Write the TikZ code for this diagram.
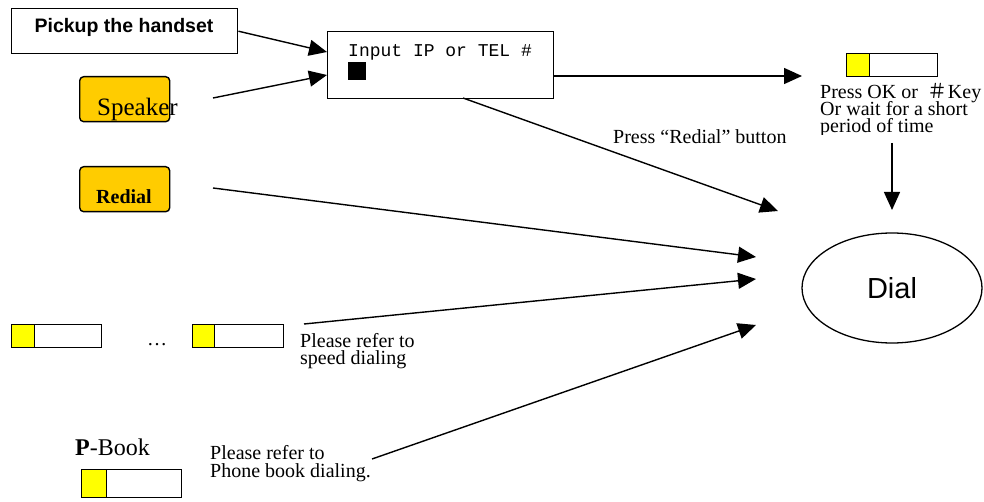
\documentclass[tikz,border=0pt]{standalone}
\usepackage{fontspec}
\setmainfont{Liberation Serif}
\setsansfont{Liberation Sans}
\setmonofont{Liberation Mono}
\newfontfamily\cjkf{Noto Sans CJK SC}
\usetikzlibrary{arrows.meta,calc,shapes.geometric}
\definecolor{gold}{HTML}{FFCC00}
\definecolor{keyyellow}{HTML}{FFFF00}
\tikzset{
  box/.style={draw, line width=1.4pt, inner sep=0pt, anchor=north west},
  btn/.style={draw, line width=1.4pt, fill=gold, rounded corners=4pt, inner sep=0pt, anchor=north west},
  keyw/.style={draw, line width=1.4pt, fill=white, inner sep=0pt, anchor=north west, minimum height=23pt},
  keyy/.style={draw, line width=1.4pt, fill=keyyellow, inner sep=0pt, anchor=north west, minimum height=23pt},
  txt/.style={inner sep=0pt, anchor=base west},
  ser/.style={font=\fontsize{20}{20}\selectfont},
  conn/.style={line width=1.4pt, -{Triangle[length=18pt,width=16pt]}},
}
\begin{document}
\begin{tikzpicture}[x=1pt,y=-1pt]
\useasboundingbox (0,0) rectangle (984,502);

% Pickup box
\node[box, minimum width=226pt, minimum height=45pt] (pick) at (11,8) {};
\node[inner sep=0pt, anchor=base, font=\fontsize{19.5}{20}\sffamily\bfseries] (pickt) at (124,33) {Pickup the handset};

% Speaker
\node[btn, minimum width=90pt, minimum height=45pt] (spk) at (79,76) {};
\node[inner sep=0pt, anchor=base, font=\fontsize{25}{25}\selectfont] (spkt) at (137.5,116) {Speaker};

% Redial
\node[btn, minimum width=90pt, minimum height=45pt] (red) at (79,166) {};
\node[inner sep=0pt, anchor=base, font=\fontsize{20}{20}\selectfont\bfseries] (redt) at (124,204) {Redial};

% Input box
\node[box, minimum width=226pt, minimum height=67pt] (input) at (327,31) {};
\node[txt, font=\fontsize{18}{18}\ttfamily] (inputt) at (348,56.5) {Input IP or TEL \#};
\node[box, fill=black, minimum width=17pt, minimum height=17pt, line width=0.5pt] (cursor) at (347.5,62) {};

% Top right key and text
\node[keyw, minimum width=91pt] (okk) at (846,53) {};
\node[keyy, minimum width=23pt] (okky) at (846,53) {};
\node[txt, ser] (ok1) at (820,99) {Press OK or \ {\cjkf ＃}Key};
\node[txt, ser] (ok2) at (820,116) {Or wait for a short};
\begin{scope}
\clip (810,118) rectangle (984,134.5);
\node[txt, ser] (ok3) at (820,133) {period of time};
\end{scope}

% Dial
\node[draw, ellipse, line width=1.3pt, minimum width=180pt, minimum height=110pt, inner sep=0pt,
      font=\fontsize{29}{30}\sffamily] (dial) at (892,288) {Dial};

% Redial button label
\node[txt, ser] (redlab) at (613,144) {Press “Redial” button};

% Speed keys
\node[keyw, minimum width=90pt] (s1) at (11,324) {};
\node[keyy, minimum width=23pt] (s1y) at (11,324) {};
\node[inner sep=0pt, anchor=base, ser] (dots) at (157,345) {\ldots};
\node[keyw, minimum width=91pt] (s2) at (192,324) {};
\node[keyy, minimum width=22pt] (s2y) at (192,324) {};
\node[txt, ser] (sp1) at (300,347) {Please refer to};
\node[txt, ser] (sp2) at (300,364) {speed dialing};

% P-Book
\node[txt, font=\fontsize{24}{24}\selectfont] (pb) at (75,455) {\textbf{P}-Book};
\node[keyw, minimum width=100pt, minimum height=28pt] (pbk) at (81,469) {};
\node[keyy, minimum width=25pt, minimum height=28pt] (pbky) at (81,469) {};
\node[txt, ser] (pb1) at (210,459) {Please refer to};
\node[txt, ser] (pb2) at (210,477) {Phone book dialing.};

% connector end points
\coordinate (inA) at (327,52);
\coordinate (inB) at (327,75);
\coordinate (spkS) at (213,98);
\coordinate (inR) at (553,76);
\coordinate (okA) at (802,76);
\coordinate (inBot) at (463,98);
\coordinate (dA) at (778,211);
\coordinate (okS) at (892,143);
\coordinate (dTop) at (892,210);
\coordinate (redS) at (213,188);
\coordinate (dB) at (756,257);
\coordinate (spS) at (304,324);
\coordinate (dC) at (756,279);
\coordinate (pbS) at (372,459);
\coordinate (dD) at (756,325);

\draw[conn] (pick.east) -- (inA);
\draw[conn] (spkS) -- (inB);
\draw[conn] (inR) -- (okA);
\draw[conn] (inBot) -- (dA);
\draw[conn] (okS) -- (dTop);
\draw[conn] (redS) -- (dB);
\draw[conn] (spS) -- (dC);
\draw[conn] (pbS) -- (dD);
\end{tikzpicture}
\end{document}
